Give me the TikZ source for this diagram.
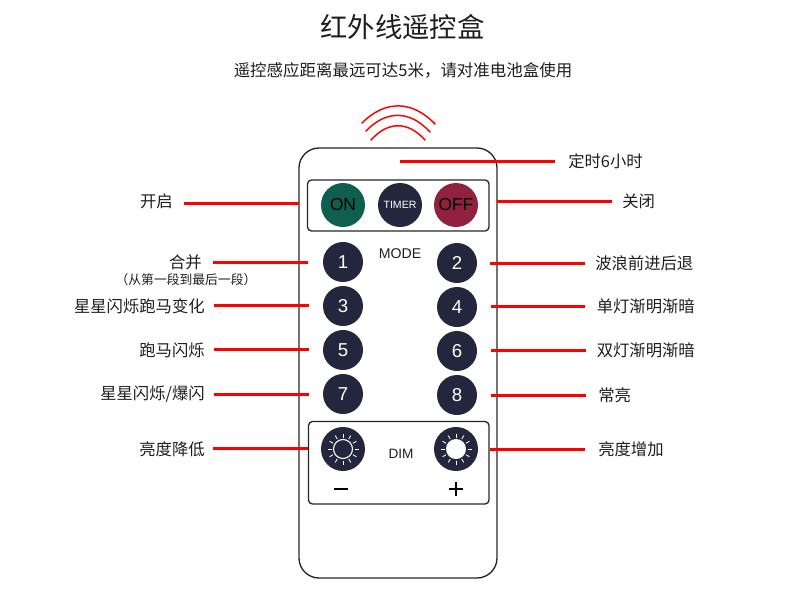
\documentclass[tikz,border=0pt]{standalone}
\usepackage{fontspec}
\setmainfont{Noto Sans CJK SC}
\newfontfamily\latinf{Liberation Sans}
\definecolor{navy}{HTML}{23263C}
\definecolor{ongreen}{HTML}{0F5F50}
\definecolor{offred}{HTML}{91213F}
\definecolor{txt}{HTML}{1E1E1E}
\definecolor{redline}{HTML}{FF0000}
\newcommand{\fs}[1]{\fontsize{#1}{#1}\selectfont}
\tikzset{
  lbl/.style={text=txt,inner sep=0pt,font=\fs{12.25}},
  conn/.style={redline,line width=2.25pt},
  wave/.style={redline,line width=1.1pt,line cap=round},
  panel/.style={draw=black!85,line width=1pt,rounded corners=3pt},
  numbtn/.style={circle,fill=navy,minimum size=30pt,inner sep=0pt,text=white,font=\latinf\fs{14}},
  bigbtn/.style={circle,minimum size=33pt,inner sep=0pt,font=\latinf\fs{13}},
  ray/.style={white,line width=0.65pt},
}
\newcommand{\rays}[1]{%
  \foreach \a in {0,30,...,330}{\draw[ray] ($(#1)+(\a:11.5)$) -- ($(#1)+(\a:15.5)$);}
}
\usetikzlibrary{calc}
\begin{document}
\begin{tikzpicture}[x=0.75pt,y=-0.75pt]
\useasboundingbox (0,0) rectangle (790,597);
\node[inner sep=0pt,text=txt,font=\fs{20.5}] (title) at (402.5,27) {红外线遥控盒};
\node[inner sep=0pt,text=txt,font=\fs{12.35}] (sub) at (403,70) {遥控感应距离最远可达5米，请对准电池盒使用};
% waves
\coordinate (w1a) at (362,123); \coordinate (w1b) at (435,124);
\coordinate (w2a) at (366,131); \coordinate (w2b) at (430,132);
\coordinate (w3a) at (371,140); \coordinate (w3b) at (425,140);
\draw[wave] (w1a) .. controls (385,100) and (412,100) .. (w1b);
\draw[wave] (w2a) .. controls (386,110) and (410,110) .. (w2b);
\draw[wave] (w3a) .. controls (388,121) and (408,121) .. (w3b);
% body
\draw[draw=black!85,line width=1pt,rounded corners=15pt] (299,148) rectangle (497,578);
\draw[panel] (307.5,180) rectangle (489,231);
\draw[panel] (308.5,421.5) rectangle (489,504);
% top buttons
\node[bigbtn,fill=ongreen,text=black] (on) at (343,205) {ON};
\node[bigbtn,fill=navy,text=white,font=\latinf\fs{7.9}] (timer) at (400,205) {TIMER};
\node[bigbtn,fill=offred,text=black] (off) at (456,205) {OFF};
% number buttons
\node[numbtn] (b1) at (343,262) {1};
\node[numbtn] (b2) at (457,263) {2};
\node[numbtn] (b3) at (343,306) {3};
\node[numbtn] (b4) at (457,307) {4};
\node[numbtn] (b5) at (343,350) {5};
\node[numbtn] (b6) at (457,351) {6};
\node[numbtn] (b7) at (343,394) {7};
\node[numbtn] (b8) at (457,395) {8};
\node[inner sep=0pt,text=txt,font=\latinf\fs{10.6}] (mode) at (400,254) {MODE};
% dim
\node[bigbtn,fill=navy] (dimm) at (343,449) {};
\node[bigbtn,fill=navy] (dimp) at (456,449) {};
\draw[white,line width=0.85pt] (dimm) circle (9.5);
\fill[white] (dimp) circle (10);
\rays{dimm}
\rays{dimp}
\node[inner sep=0pt,text=txt,font=\latinf\fs{10.2}] (dim) at (401,454) {DIM};
\coordinate (ma) at (333.5,489); \coordinate (mb) at (347.5,489);
\draw[black,line width=1.1pt] (ma) -- (mb);
\coordinate (pa) at (449,489); \coordinate (pb) at (463,489);
\coordinate (pc) at (456,482); \coordinate (pd) at (456,496);
\draw[black,line width=1.1pt] (pa) -- (pb) (pc) -- (pd);
% labels left
\node[lbl,anchor=east] (l0) at (173,201) {开启};
\node[lbl,anchor=east] (l1) at (202,262) {合并};
\node[lbl,font=\fs{9.6}] (l1b) at (186,280) {（从第一段到最后一段）};
\node[lbl,anchor=east] (l3) at (205,306) {星星闪烁跑马变化};
\node[lbl,anchor=east] (l5) at (205,350) {跑马闪烁};
\node[lbl,anchor=east] (l7) at (205,394) {星星闪烁/爆闪};
\node[lbl,anchor=east] (l9) at (205,449) {亮度降低};
% labels right
\node[lbl,anchor=west] (r0) at (568,161) {定时6小时};
\node[lbl,anchor=west] (r1) at (622,201) {关闭};
\node[lbl,anchor=west] (r2) at (595,263) {波浪前进后退};
\node[lbl,anchor=west] (r4) at (596.5,306) {单灯渐明渐暗};
\node[lbl,anchor=west] (r6) at (596.5,350) {双灯渐明渐暗};
\node[lbl,anchor=west] (r8) at (598,395) {常亮};
\node[lbl,anchor=west] (r9) at (598,449) {亮度增加};
% connectors
\coordinate (t0) at (400,161); \coordinate (e0) at (555,161);
\draw[conn] (t0) -- (e0);
\coordinate (a0) at (184,203); \coordinate (c0) at (299,203);
\draw[conn] (a0) -- (c0);
\coordinate (a1) at (497,201); \coordinate (c1) at (612,201);
\draw[conn] (a1) -- (c1);
\foreach \n/\xa/\ya/\xb in {la/213/262/308,lb/214/305/309,lc/214/349/309,ld/214/394/309,le/213/448/308,ra/490/263/585,rb/491/306/585,rc/491/350/586,rd/491/395/586,re/490/449/585}{
  \coordinate (\n1) at (\xa,\ya); \coordinate (\n2) at (\xb,\ya);
  \draw[conn] (\n1) -- (\n2);
}
\end{tikzpicture}
\end{document}
